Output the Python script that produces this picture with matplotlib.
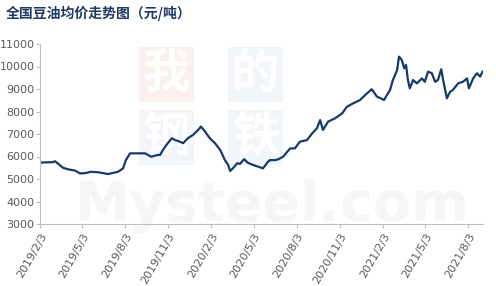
import pandas as pd
import matplotlib.pyplot as plt

plt.rcParams['font.family'] = ['DejaVu Sans', 'Noto Sans CJK SC']

title = '全国豆油均价走势图（元/吨）'

dates = [
    '2019-02-03', '2019-02-05', '2019-03-03', '2019-03-07', '2019-03-24', '2019-04-04',
    '2019-04-19', '2019-04-29', '2019-05-10', '2019-05-23', '2019-06-07', '2019-06-28',
    '2019-07-19', '2019-07-30', '2019-08-05', '2019-08-14', '2019-08-31', '2019-09-15',
    '2019-09-28', '2019-10-12', '2019-10-17', '2019-10-23', '2019-11-01', '2019-11-11',
    '2019-11-18', '2019-11-28', '2019-12-05', '2019-12-15', '2019-12-26', '2020-01-06',
    '2020-01-12', '2020-01-21', '2020-01-31', '2020-02-11', '2020-02-22', '2020-03-03',
    '2020-03-10', '2020-03-14', '2020-03-20', '2020-03-29', '2020-04-04', '2020-04-13',
    '2020-04-21', '2020-05-02', '2020-05-17', '2020-05-23', '2020-06-03', '2020-06-07',
    '2020-06-18', '2020-06-24', '2020-07-05', '2020-07-20', '2020-07-30', '2020-08-10',
    '2020-08-25', '2020-09-05', '2020-09-15', '2020-09-22', '2020-09-28', '2020-10-09',
    '2020-10-24', '2020-11-08', '2020-11-18', '2020-12-01', '2020-12-16', '2020-12-31',
    '2021-01-10', '2021-01-21', '2021-01-28', '2021-02-05', '2021-02-18', '2021-02-24',
    '2021-03-05', '2021-03-09', '2021-03-15', '2021-03-20', '2021-03-24', '2021-03-28',
    '2021-04-01', '2021-04-08', '2021-04-16', '2021-04-27', '2021-05-03', '2021-05-10',
    '2021-05-18', '2021-05-25', '2021-05-31', '2021-06-07', '2021-06-11', '2021-06-19',
    '2021-06-26', '2021-07-02', '2021-07-13', '2021-07-23', '2021-08-01', '2021-08-05',
    '2021-08-14', '2021-08-22', '2021-08-29', '2021-09-03',
]
prices = [
    5750, 5730, 5750, 5790, 5500, 5430,
    5370, 5250, 5260, 5320, 5300, 5220,
    5320, 5470, 5840, 6140, 6140, 6140,
    5990, 6070, 6070, 6290, 6560, 6810,
    6730, 6660, 6590, 6810, 6960, 7180,
    7330, 7100, 6810, 6590, 6290, 5840,
    5620, 5360, 5470, 5700, 5670, 5880,
    5720, 5620, 5520, 5470, 5770, 5840,
    5840, 5870, 5990, 6360, 6360, 6660,
    6730, 7030, 7250, 7620, 7180, 7550,
    7700, 7920, 8210, 8360, 8510, 8810,
    8990, 8660, 8600, 8510, 8960, 9400,
    9840, 10440, 10290, 9920, 10070, 9400,
    9030, 9400, 9250, 9470, 9320, 9770,
    9700, 9320, 9400, 9880, 9400, 8590,
    8880, 8960, 9250, 9320, 9470, 9030,
    9470, 9700, 9550, 9770,
]

tick_dates = ['2019-02-03', '2019-05-03', '2019-08-03', '2019-11-03', '2020-02-03', '2020-05-03',
              '2020-08-03', '2020-11-03', '2021-02-03', '2021-05-03', '2021-08-03']
tick_labels = ['2019/2/3', '2019/5/3', '2019/8/3', '2019/11/3', '2020/2/3', '2020/5/3',
               '2020/8/3', '2020/11/3', '2021/2/3', '2021/5/3', '2021/8/3']
y_ticks = [3000, 4000, 5000, 6000, 7000, 8000, 9000, 10000, 11000]

df = pd.DataFrame({'date': pd.to_datetime(dates), 'price': prices})

fig = plt.figure(figsize=(4.96, 2.86), dpi=100)
ax = fig.add_axes([40 / 496, 1 - 224 / 286, 443 / 496, 180 / 286])
ax.set_zorder(2)
ax.patch.set_alpha(0)

# faint watermark, behind the axes
fig.text(0.55, 0.28, 'Mysteel.com', fontsize=40, fontweight='bold', color='#f5f6f7',
         ha='center', va='center', zorder=0)
for cx, cy, ch, c in [(0.335, 0.74, '我', '#fcf0ee'), (0.515, 0.74, '的', '#f2f5fa'),
                      (0.335, 0.52, '钢', '#f2f5fa'), (0.515, 0.52, '铁', '#f2f5fa')]:
    fig.text(cx, cy, ch, fontsize=34, color='white', family='Noto Sans CJK SC', fontweight='bold',
             ha='center', va='center', zorder=0,
             bbox=dict(boxstyle='square,pad=0.08', fc=c, ec='none'))

ax.plot(df['date'], df['price'], color='#173a6b', linewidth=1.6, solid_joinstyle='round')

ax.set_xlim(pd.Timestamp('2019-02-03'), pd.Timestamp('2021-09-04'))
ax.set_ylim(3000, 11000)
ax.set_yticks(y_ticks)
ax.set_yticklabels([str(v) for v in y_ticks])
ax.set_xticks(pd.to_datetime(tick_dates))
ax.set_xticklabels(tick_labels, rotation=60, ha='right', rotation_mode='anchor')

for s in ['top', 'right']:
    ax.spines[s].set_visible(False)
for s in ['left', 'bottom']:
    ax.spines[s].set_color('#bfbfbf')
    ax.spines[s].set_linewidth(0.8)
ax.tick_params(axis='both', colors='#bfbfbf', labelcolor='#595959', labelsize=8, length=3, width=0.8)
ax.tick_params(axis='y', pad=1)
ax.tick_params(axis='x', pad=2)

fig.text(6 / 496, 1 - 13 / 286, title, fontsize=10, fontweight='bold', color='#1f3864',
         family=['Noto Sans CJK SC', 'DejaVu Sans'], ha='left', va='center')

fig.savefig('out.png', dpi=100)
